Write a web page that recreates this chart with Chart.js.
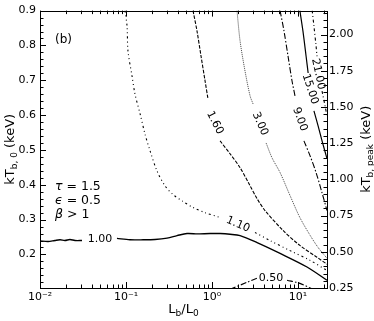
<!DOCTYPE html>
<html>
<head>
<meta charset="utf-8">
<script src="https://cdn.jsdelivr.net/npm/chart.js@4.4.0/dist/chart.umd.min.js"></script>
<style>
  body { margin: 0; background: #fff; }
  canvas { display: block; }
</style>
</head>
<body>
<canvas id="contourChart" width="374" height="321"></canvas>
<script>
// contour levels, traced paths: x = Lb/L0, y = kT_b,0 (keV); null = gap for the inline label
const levels = ['1.00', '1.10', '1.60', '3.00', '9.00', '15.00', '21.00', '0.50'];

const x100 = [0.01, 0.0124, 0.0149, 0.0171, 0.0195, 0.0223, 0.0255, 0.0308, null, 0.0785, 0.111, 0.158, 0.217, 0.3, 0.392, 0.512, 0.669, 0.725, 0.949, 1.24, 1.62, 2.12, 3.34, 6.18, 12.7, 21.7];
const y100 = [0.239, 0.237, 0.240, 0.242, 0.240, 0.243, 0.240, 0.240, null, 0.246, 0.242, 0.242, 0.243, 0.247, 0.254, 0.260, 0.259, 0.259, 0.260, 0.260, 0.258, 0.254, 0.234, 0.203, 0.164, 0.126];

const x110 = [0.0973, 0.1028, 0.1054, 0.1175, 0.127, 0.146, 0.166, 0.190, 0.229, 0.284, 0.352, 0.460, 0.601, 0.830, 1.24, null, 3.16, 4.72, 8.07, 13.8, 21.7];
const y110 = [0.9, 0.855, 0.784, 0.712, 0.661, 0.603, 0.546, 0.498, 0.440, 0.397, 0.372, 0.352, 0.335, 0.320, 0.306, null, 0.263, 0.240, 0.211, 0.183, 0.154];

const x160 = [0.601, 0.669, 0.745, 0.830, 0.898, null, 1.24, 1.62, 2.12, 2.77, 3.34, 4.13, 6.69, 10.5, 16.6, 21.7];
const y160 = [0.9, 0.841, 0.769, 0.698, 0.646, null, 0.526, 0.489, 0.449, 0.397, 0.360, 0.326, 0.269, 0.226, 0.192, 0.172];

const x300 = [1.95, 2.12, 2.42, 2.77, 3.00, null, 4.25, 4.99, 6.18, 8.07, 10.5, 13.8, 17.1, 21.7];
const y300 = [0.9, 0.812, 0.726, 0.655, 0.632, null, 0.520, 0.477, 0.435, 0.369, 0.306, 0.255, 0.220, 0.189];

const x900 = [6.18, 6.87, 7.65, 8.51, 9.22, null, 11.7, 13.8, 16.2, 19.0, 21.7];
const y900 = [0.9, 0.841, 0.769, 0.698, 0.655, null, 0.526, 0.483, 0.435, 0.377, 0.326];

const x1500 = [10.5, 11.4, 12.4, 13.1, null, 15.3, 17.1, 19.0, 21.7];
const y1500 = [0.9, 0.841, 0.769, 0.721, null, 0.612, 0.569, 0.526, 0.475];

const x2100 = [14.6, 15.3, 16.2, 16.6, null, 19.0, 20.6, 21.7];
const y2100 = [0.9, 0.855, 0.798, 0.769, null, 0.669, 0.626, 0.598];

const x050 = [1.62, 2.55, 3.34, null, 7.45, 10.5, 14.9];
const y050 = [0.10, 0.120, 0.132, null, 0.126, 0.117, 0.10];

// inline label anchor for each level (same order as levels)
const labelX = [0.0499, 2.0, 1.08, 3.61, 10.5, 13.8, 17.1, 4.85];
const labelY = [0.244, 0.286, 0.578, 0.575, 0.588, 0.675, 0.718, 0.132];

// axis ticks
const xTicks = [0.01, 0.1, 1, 10];
const yTicks = [0.2, 0.3, 0.4, 0.5, 0.6, 0.7, 0.8, 0.9];
const y2Ticks = [0.25, 0.5, 0.75, 1.0, 1.25, 1.5, 1.75, 2.0];

// styles per level
const lineStyles = [
    { dash: [], width: 1.4, color: '#000', rot: 0 },
    { dash: [2, 3, 1, 3, 1, 3], width: 1.1, color: '#000', rot: 23 },
    { dash: [3.5, 1.5], width: 1.1, color: '#000', rot: 63 },
    { dash: [1, 1], width: 1, color: '#444', rot: 66 },
    { dash: [6, 2, 1.5, 2], width: 1.1, color: '#000', rot: 70 },
    { dash: [], width: 1.2, color: '#000', rot: 72 },
    { dash: [3, 2.5, 1, 2.5], width: 1.1, color: '#000', rot: 78 },
    { dash: [6, 2, 1.5, 2], width: 1.1, color: '#000', rot: 0 }
];

const paths = [[x100, y100], [x110, y110], [x160, y160], [x300, y300], [x900, y900], [x1500, y1500], [x2100, y2100], [x050, y050]];

const FONT = '"DejaVu Sans", sans-serif';
const supMap = { '-': '\u207B', '0': '\u2070', '1': '\u00B9', '2': '\u00B2' };

function logLabel(v) {
    const e = String(Math.round(Math.log10(v)));
    return '10' + e.split('').map(c => supMap[c]).join('');
}

// text with subscripts, centred on (x, y)
function drawSubText(ctx, parts, x, y, angle, size) {
    const subSize = Math.round(size * 0.72);
    ctx.save();
    ctx.translate(x, y);
    ctx.rotate(angle);
    let total = 0;
    parts.forEach(([t, sub]) => {
        ctx.font = (sub ? subSize : size) + 'px ' + FONT;
        total += ctx.measureText(t).width;
    });
    let cx = -total / 2;
    ctx.textAlign = 'left';
    ctx.textBaseline = 'alphabetic';
    ctx.fillStyle = '#000';
    parts.forEach(([t, sub]) => {
        ctx.font = (sub ? subSize : size) + 'px ' + FONT;
        ctx.fillText(t, cx, size * 0.36 + (sub ? size * 0.28 : 0));
        cx += ctx.measureText(t).width;
    });
    ctx.restore();
}

// frame, inward ticks, contour labels, titles and annotation
const decorPlugin = {
    id: 'decor',
    afterDatasetsDraw(chart) {
        const ctx = chart.ctx;
        const a = chart.chartArea;
        const sx = chart.scales.x, sy = chart.scales.y, sy2 = chart.scales.y2;

        ctx.save();
        ctx.strokeStyle = '#000';
        ctx.lineWidth = 1;
        ctx.setLineDash([]);
        ctx.strokeRect(Math.round(a.left) + 0.5, Math.round(a.top) + 0.5, Math.round(a.right - a.left), Math.round(a.bottom - a.top));

        ctx.beginPath();
        // x ticks, bottom and top
        const xMinor = [];
        xTicks.forEach(d => { for (let m = 2; m <= 9; m++) xMinor.push(d * m); });
        const xMarks = xTicks.map(v => [v, 6]).concat(xMinor.map(v => [v, 3.5]));
        xMarks.forEach(([v, len]) => {
            if (v < sx.min || v > sx.max) return;
            const p = Math.round(sx.getPixelForValue(v)) + 0.5;
            ctx.moveTo(p, a.bottom); ctx.lineTo(p, a.bottom - len);
            ctx.moveTo(p, a.top); ctx.lineTo(p, a.top + len);
        });
        // left ticks
        for (let i = 1; i <= 45; i++) {
            const v = i * 0.02;
            if (v < sy.min || v > sy.max + 1e-9) continue;
            const len = (i % 5 === 0) ? 6 : 3.5;
            const p = Math.round(sy.getPixelForValue(v)) + 0.5;
            ctx.moveTo(a.left, p); ctx.lineTo(a.left + len, p);
        }
        // right ticks
        for (let i = 5; i <= 43; i++) {
            const v = i * 0.05;
            if (v < sy2.min - 1e-9 || v > sy2.max) continue;
            const len = (i % 5 === 0) ? 6 : 3.5;
            const p = Math.round(sy2.getPixelForValue(v)) + 0.5;
            ctx.moveTo(a.right, p); ctx.lineTo(a.right - len, p);
        }
        ctx.stroke();

        // contour labels
        ctx.fillStyle = '#000';
        ctx.font = '11px ' + FONT;
        ctx.textAlign = 'center';
        ctx.textBaseline = 'middle';
        levels.forEach((lev, i) => {
            const px = sx.getPixelForValue(labelX[i]);
            const py = sy.getPixelForValue(labelY[i]);
            ctx.save();
            ctx.translate(px, py);
            ctx.rotate(lineStyles[i].rot * Math.PI / 180);
            ctx.fillText(lev, 0, 0);
            ctx.restore();
        });

        // panel annotation
        ctx.textAlign = 'left';
        ctx.font = '12px ' + FONT;
        ctx.fillText('(b)', 55, 40);
        const notes = [['\u03C4', ' = 1.5'], ['\u03F5', ' = 0.5'], ['\u03B2', ' > 1']];
        notes.forEach(([sym, rest], k) => {
            const yy = 187 + k * 13.8;
            ctx.font = 'italic 12.5px ' + FONT;
            ctx.fillText(sym, 55, yy);
            const w = ctx.measureText(sym).width;
            ctx.font = '12.5px ' + FONT;
            ctx.fillText(rest, 55 + w, yy);
        });

        // axis titles
        drawSubText(ctx, [['kT', false], ['b, 0', true], [' (keV)', false]], 9, (a.top + a.bottom) / 2, -Math.PI / 2, 13);
        drawSubText(ctx, [['kT', false], ['b, peak', true], [' (keV)', false]], 365, (a.top + a.bottom) / 2, -Math.PI / 2, 13);
        drawSubText(ctx, [['L', false], ['b', true], ['/L', false], ['0', true]], (a.left + a.right) / 2, 308, 0, 13);
        ctx.restore();
    }
};

document.addEventListener('DOMContentLoaded', () => {
    const ctx = document.getElementById('contourChart').getContext('2d');

    const datasets = paths.map(([xs, ys], i) => ({
        label: levels[i],
        data: xs.map((x, j) => ({ x: x, y: ys[j] })),
        showLine: true,
        spanGaps: false,
        borderColor: lineStyles[i].color,
        borderWidth: lineStyles[i].width,
        borderDash: lineStyles[i].dash,
        pointRadius: 0,
        tension: 0.3,
        fill: false
    }));

    const tickFont = { family: FONT, size: 11 };

    new Chart(ctx, {
        type: 'scatter',
        data: { datasets },
        options: {
            responsive: false,
            animation: false,
            events: [],
            layout: { padding: { top: 9, left: 0, right: 0, bottom: 0 } },
            plugins: { legend: { display: false }, tooltip: { enabled: false } },
            scales: {
                x: {
                    type: 'logarithmic',
                    position: 'bottom',
                    min: 0.01,
                    max: 21.7,
                    afterBuildTicks: s => { s.ticks = xTicks.map(v => ({ value: v })); },
                    afterFit: s => { s.height = 33; },
                    grid: { display: false, drawTicks: false },
                    border: { display: false },
                    ticks: { callback: v => logLabel(v), font: tickFont, color: '#000', padding: 3, maxRotation: 0, autoSkip: false }
                },
                y: {
                    type: 'linear',
                    position: 'left',
                    min: 0.1037,
                    max: 0.9,
                    afterBuildTicks: s => { s.ticks = yTicks.map(v => ({ value: v })); },
                    afterFit: s => { s.width = 40; },
                    grid: { display: false, drawTicks: false },
                    border: { display: false },
                    ticks: { callback: v => v.toFixed(1), font: tickFont, color: '#000', padding: 4 }
                },
                y2: {
                    type: 'linear',
                    position: 'right',
                    min: 0.25,
                    max: 2.165,
                    afterBuildTicks: s => { s.ticks = y2Ticks.map(v => ({ value: v })); },
                    afterFit: s => { s.width = 47; },
                    grid: { display: false, drawTicks: false },
                    border: { display: false },
                    ticks: { callback: v => v.toFixed(2), font: tickFont, color: '#000', padding: 2 }
                }
            }
        },
        plugins: [decorPlugin]
    });
});
</script>
</body>
</html>
